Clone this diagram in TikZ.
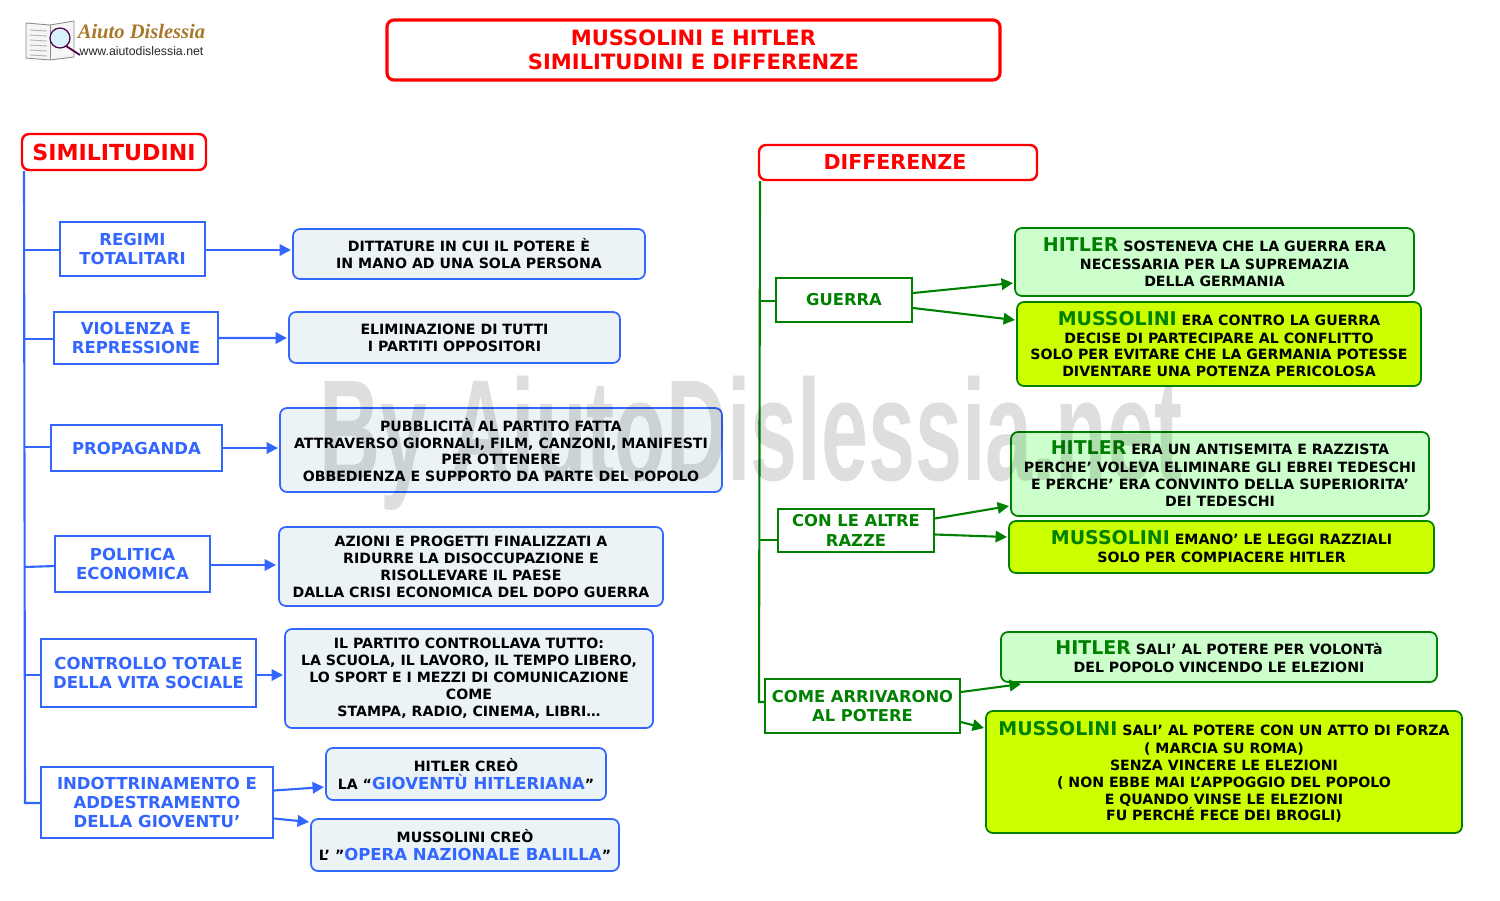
\documentclass[tikz,border=0pt]{standalone}
\usepackage{fontspec}
\setmainfont{DejaVu Sans}
\newfontfamily\markfont{Liberation Sans}
\newfontfamily\logofont{Liberation Serif}
\newfontfamily\urlfont{Liberation Sans}
\usetikzlibrary{calc,arrows.meta}
\definecolor{myblue}{HTML}{3366FF}
\definecolor{mygreen}{HTML}{008000}
\definecolor{paleblue}{HTML}{EBF3F6}
\definecolor{palegreen}{HTML}{CCFFCC}
\definecolor{lime}{HTML}{CCFF00}
\definecolor{logogold}{HTML}{A9772A}
\newcommand{\bigname}[1]{{\fontsize{10.8}{10}\selectfont\color{mygreen}#1}}
\newcommand{\bluename}[1]{{\fontsize{9.4}{10}\selectfont\color{myblue}#1}}
\tikzset{
>={Triangle[length=6.5pt,width=6.5pt]},
size/.style 2 args={minimum width=#1*.02cm,minimum height=#2*.02cm},
basebox/.style={inner sep=0,outer sep=0,align=center,font=\bfseries\fontsize{8.05}{9.64}\selectfont},
titlebox/.style={basebox,draw=red,text=red,rounded corners=4pt,line width=1.8pt,font=\bfseries\fontsize{12}{13.6}\selectfont},
headbox/.style={titlebox,line width=1.4pt},
blueitem/.style={basebox,draw=myblue,text=myblue,line width=1.5pt,font=\bfseries\fontsize{9.4}{11}\selectfont},
greenitem/.style={basebox,draw=mygreen,text=mygreen,line width=1.5pt,font=\bfseries\fontsize{9.3}{11}\selectfont},
bluenote/.style={basebox,draw=myblue,fill=paleblue,rounded corners=4pt,line width=1pt},
hitlernote/.style={basebox,draw=mygreen,fill=palegreen,rounded corners=4pt,line width=1pt},
mussnote/.style={basebox,draw=mygreen,fill=lime,rounded corners=4pt,line width=1pt},
bluelink/.style={draw=myblue,line width=1.2pt},
greenlink/.style={draw=mygreen,line width=1.2pt},
}
\begin{document}
\begin{tikzpicture}[x=.02cm,y=-.02cm]
\useasboundingbox (0,0) rectangle (1500,900);
\node[titlebox,size={613}{60}] (title) at (693.5,50) {MUSSOLINI E HITLER\\SIMILITUDINI E DIFFERENZE};
\node[headbox,size={184}{36},font=\bfseries\fontsize{12.6}{14}\selectfont] (simil) at (114,152) {SIMILITUDINI};
\node[headbox,size={278}{35},font=\bfseries\fontsize{11.7}{14}\selectfont] (diff) at (898,162.5) {DIFFERENZE\hspace*{3.4pt}};
% left side
\node[blueitem,size={145}{54}] (regimi) at (132.5,249) {REGIMI\\TOTALITARI};
\node[bluenote,size={352}{50}] (dittature) at (469,254) {DITTATURE IN CUI IL POTERE È\\IN MANO AD UNA SOLA PERSONA};
\node[blueitem,size={164}{52}] (violenza) at (136,338) {VIOLENZA E\\REPRESSIONE};
\node[bluenote,size={331}{51}] (eliminazione) at (454.5,337.5) {ELIMINAZIONE DI TUTTI\\I PARTITI OPPOSITORI};
\node[blueitem,size={171}{46}] (propaganda) at (136.5,448) {PROPAGANDA};
\node[bluenote,size={442}{84}] (pubblicita) at (501,450) {PUBBLICITÀ AL PARTITO FATTA\\ATTRAVERSO GIORNALI, FILM, CANZONI, MANIFESTI\\PER OTTENERE\\OBBEDIENZA E SUPPORTO DA PARTE DEL POPOLO};
\node[blueitem,size={155}{56}] (politica) at (132.5,564) {POLITICA\\ECONOMICA};
\node[bluenote,size={384}{79}] (azioni) at (471,566.5) {AZIONI E PROGETTI FINALIZZATI A\\RIDURRE LA DISOCCUPAZIONE E\\RISOLLEVARE IL PAESE\\DALLA CRISI ECONOMICA DEL DOPO GUERRA};
\node[blueitem,size={215}{68}] (controllo) at (148.5,673) {CONTROLLO TOTALE\\DELLA VITA SOCIALE};
\node[bluenote,size={368}{99}] (partito) at (469,678.5) {IL PARTITO CONTROLLAVA TUTTO:\\LA SCUOLA, IL LAVORO, IL TEMPO LIBERO,\\LO SPORT E I MEZZI DI COMUNICAZIONE\\COME\\STAMPA, RADIO, CINEMA, LIBRI…};
\node[blueitem,size={232}{71}] (indottrinamento) at (157,802.5) {INDOTTRINAMENTO E\\ADDESTRAMENTO\\DELLA GIOVENTU’};
\node[bluenote,size={280}{52}] (gioventu) at (466,774) {HITLER CREÒ\\[1pt]LA “\bluename{GIOVENTÙ HITLERIANA}”};
\node[bluenote,size={308}{52}] (balilla) at (465,845) {MUSSOLINI CREÒ\\[1pt]L’ ”\bluename{OPERA NAZIONALE BALILLA}”};
% right side
\node[greenitem,size={136}{44}] (guerra) at (844,300) {GUERRA};
\node[hitlernote,size={399}{68}] (hitlerA) at (1214.5,262) {\bigname{HITLER} SOSTENEVA CHE LA GUERRA ERA\\[.6pt]NECESSARIA PER LA SUPREMAZIA\\DELLA GERMANIA};
\node[mussnote,size={404}{84}] (mussA) at (1219,344) {\bigname{MUSSOLINI} ERA CONTRO LA GUERRA\\[.6pt]DECISE DI PARTECIPARE AL CONFLITTO\\SOLO PER EVITARE CHE LA GERMANIA POTESSE\\DIVENTARE UNA POTENZA PERICOLOSA};
\node[greenitem,size={156}{43}] (razze) at (856,530.5) {CON LE ALTRE\\RAZZE};
\node[hitlernote,size={418}{84}] (hitlerB) at (1220,474) {\bigname{HITLER} ERA UN ANTISEMITA E RAZZISTA\\[.6pt]PERCHE’ VOLEVA ELIMINARE GLI EBREI TEDESCHI\\E PERCHE’ ERA CONVINTO DELLA SUPERIORITA’\\DEI TEDESCHI};
\node[mussnote,size={425}{52}] (mussB) at (1221.5,547) {\bigname{MUSSOLINI} EMANO’ LE LEGGI RAZZIALI\\[.6pt]SOLO PER COMPIACERE HITLER};
\node[greenitem,size={195}{54}] (potere) at (862.5,706) {COME ARRIVARONO\\AL POTERE};
\node[hitlernote,size={436}{50}] (hitlerC) at (1219,657) {\bigname{HITLER} SALI’ AL POTERE PER VOLONTà\\[.6pt]DEL POPOLO VINCENDO LE ELEZIONI};
\node[mussnote,size={476}{122}] (mussC) at (1224,772) {\bigname{MUSSOLINI} SALI’ AL POTERE CON UN ATTO DI FORZA\\[.6pt]( MARCIA SU ROMA)\\SENZA VINCERE LE ELEZIONI\\( NON EBBE MAI L’APPOGGIO DEL POPOLO\\E QUANDO VINSE LE ELEZIONI\\FU PERCHÉ FECE DEI BROGLI)};
% spines
\coordinate (bluetop) at (simil.south west);
\coordinate (greentop) at (diff.south west);
\draw[bluelink] ($(bluetop)+(2,1)$) -- (25,803) -- (indottrinamento.west |- 0,803);
\draw[bluelink] (25,250) -- (regimi.west |- 0,250);
\draw[bluelink] (25,339) -- (violenza.west |- 0,339);
\draw[bluelink] (25,447) -- (propaganda.west |- 0,447);
\draw[bluelink] (25,567) -- (politica.west |- 0,566);
\draw[bluelink] (25,675) -- (controllo.west |- 0,675);
\draw[greenlink] ($(greentop)+(1,1)$) -- (759,702) -- (potere.west |- 0,702);
\draw[greenlink] (760,301) -- (guerra.west |- 0,301);
\draw[greenlink] (759,540) -- (razze.west |- 0,540);
% arrows
\draw[bluelink,->] ($(regimi.east)+(0,1)$) -- ($(dittature.west)+(-2,-4)$);
\draw[bluelink,->] (violenza.east) -- ($(eliminazione.west)+(-2,.5)$);
\draw[bluelink,->] (propaganda.east) -- ($(pubblicita.west)+(-2,-2)$);
\draw[bluelink,->] ($(politica.east)+(0,1)$) -- ($(azioni.west)+(-3,-1.5)$);
\draw[bluelink,->] ($(controllo.east)+(0,2)$) -- ($(partito.west)+(-2,-3.5)$);
\draw[bluelink,->] ($(indottrinamento.east)+(1,-12)$) -- ($(gioventu.west)+(-2,13)$);
\draw[bluelink,->] ($(indottrinamento.east)+(1,16)$) -- ($(balilla.west)+(-2,-23)$);
\draw[greenlink,->] ($(guerra.east)+(1,-7)$) -- ($(hitlerA.west)+(-2,21)$);
\draw[greenlink,->] ($(guerra.east)+(1,8)$) -- ($(mussA.west)+(-2,-24)$);
\draw[greenlink,->] ($(razze.east)+(1,-12)$) -- ($(hitlerB.west)+(-2,32)$);
\draw[greenlink,->] ($(razze.east)+(1,4)$) -- ($(mussB.west)+(-2,-10)$);
\draw[greenlink,->] ($(potere.east)+(1,-14)$) -- ($(hitlerC.south west)+(20,2)$);
\draw[greenlink,->] ($(potere.east)+(1,16)$) -- ($(mussC.west)+(-2,-44)$);
% watermark
\node[inner sep=0,anchor=base,text=black,opacity=.13,xscale=.586,font=\markfont\bfseries\fontsize{82}{82}\selectfont] (mark) at (751,480) {By AiutoDislessia.net};
% logo
\node[inner sep=0,text=black!85,font=\urlfont\fontsize{7}{8}\selectfont] (logourl) at (141.5,51) {www.aiutodislessia.net};
\node[inner sep=0,text=logogold,font=\logofont\bfseries\itshape\fontsize{11.7}{12}\selectfont] (logoname) at (141.5,31) {Aiuto Dislessia};
\draw[black!45,fill=black!4,line width=.5pt] (26,23) -- (50,25) -- (74,21) -- (74,57) -- (50,60) -- (26,58) -- cycle;
\draw[black!45,line width=.4pt] (50,25) -- (50,60);
\foreach \i in {30,35,...,55} \draw[black!30,line width=.5pt] (30,\i) -- (47,{\i+1});
\draw[violet!60!black,fill=cyan!15,line width=.7pt] (60,38) circle (10);
\draw[violet!60!black,line width=1pt] (66,46) -- (80,55);
\end{tikzpicture}
\end{document}
